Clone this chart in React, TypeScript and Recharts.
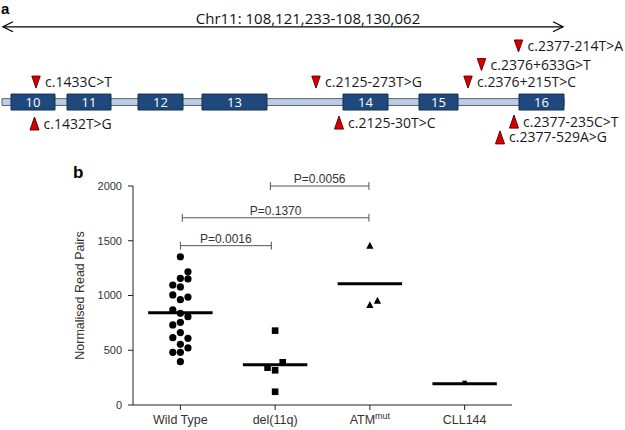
import { ComposedChart, ReferenceArea, ReferenceLine, Scatter, XAxis, YAxis } from 'recharts'

const SANS = '"Liberation Sans", Arial, sans-serif'
const CAL = '"Open Sans", sans-serif'

// panel a: exons 10-16 of ATM, x in schematic units along the region, y in lanes off the gene track
const EXON_NAMES = ['10', '11', '12', '13', '14', '15', '16']
const EXON_START = [11, 67, 138, 202, 343, 419, 519]
const EXON_END = [55, 111, 183, 267, 388, 458, 564]
const TRACK = [2, 564]
const REGION_LABEL = 'Chr11: 108,121,233-108,130,062'
const REGION_ENDS = [3, 563]
const REGION_LANE = 3.96

const VARIANTS = [
  'c.1433C>T',
  'c.2125-273T>G',
  'c.2376+215T>C',
  'c.2376+633G>T',
  'c.2377-214T>A',
  'c.1432T>G',
  'c.2125-30T>C',
  'c.2377-235C>T',
  'c.2377-529A>G',
]
const VARIANT_POS = [36, 316, 468, 481.5, 518.5, 34.5, 339, 514, 500]
const VARIANT_LANE = [1.05, 1.05, 1.05, 1.97, 2.95, -1.13, -1.08, -1.03, -1.86]

// panel b: normalised read pairs per group (x = group index + jitter)
const GROUPS = ['Wild Type', 'del(11q)', 'ATM', 'CLL144']
const GROUP_SUP = ['', '', 'mut', '']
const WT_JITTER = [0, 0.08, 0, 0.08, -0.08, 0, -0.08, 0, 0.08, -0.08, 0, 0.08, -0.08, 0, 0, 0.08, -0.08, 0, 0.08, -0.08, 0, 0]
const WT_READS = [1354, 1217, 1157, 1151, 1096, 1078, 1005, 962, 986, 868, 837, 807, 731, 755, 661, 609, 615, 554, 521, 481, 481, 396]
const DEL_JITTER = [0, 0.08, -0.08, 0, 0]
const DEL_READS = [679, 390, 341, 317, 121]
const ATM_JITTER = [0, 0, 0.08]
const ATM_READS = [1455, 913, 952]
const CLL_JITTER = [0]
const CLL_READS = [202]
const GROUP_MEANS = [843, 368, 1108, 195]

const CMP_FROM = [0, 0.02, 0.95]
const CMP_TO = [0.96, 1.99, 1.99]
const CMP_Y = [1455, 1710, 2000]
const CMP_P = ['P=0.0016', 'P=0.1370', 'P=0.0056']

const toPoints = (jitter: number[], reads: number[], g: number) =>
  reads.map((y, i) => ({ x: g + jitter[i], y }))

const exonData = EXON_NAMES.map((name, i) => ({ name, x1: EXON_START[i], x2: EXON_END[i] }))
const variantData = VARIANTS.map((label, i) => ({ label, x: VARIANT_POS[i], y: VARIANT_LANE[i] }))
const arrowData = REGION_ENDS.map((x, i) => ({ x, y: REGION_LANE, dir: i === 0 ? -1 : 1 }))

function VariantMark(props: any) {
  const { cx, cy, payload } = props
  const down = payload.y > 0
  const pts = down
    ? `${cx - 4.2},${cy - 6} ${cx + 4.2},${cy - 6} ${cx},${cy + 6}`
    : `${cx - 4.5},${cy + 6.5} ${cx + 4.5},${cy + 6.5} ${cx},${cy - 6.5}`
  return (
    <g>
      <polygon points={pts} fill="#d40000" stroke="#6b0000" strokeWidth={1} />
      <text x={cx + 9} y={cy + 5} fontFamily={CAL} fontSize={14} fill="#1a1a1a">
        {payload.label}
      </text>
    </g>
  )
}

function ArrowHead(props: any) {
  const { cx, cy, payload } = props
  const ax = cx - payload.dir * 10
  return <polyline points={`${ax},${cy - 5} ${cx},${cy} ${ax},${cy + 5}`} fill="none" stroke="#000" strokeWidth={1.3} />
}

function GroupTick(props: any) {
  const { x, y, payload } = props
  const i = payload.value
  return (
    <text x={x} y={y} dy="0.71em" textAnchor="middle" fontFamily={SANS} fontSize={12.5} fill="#333">
      {GROUPS[i]}
      {GROUP_SUP[i] && (
        <tspan dy={-5} fontSize={9}>
          {GROUP_SUP[i]}
        </tspan>
      )}
    </text>
  )
}

const circle = (p: any) => <circle cx={p.cx} cy={p.cy} r={3.6} fill="#000" />
const square = (p: any) => <rect x={p.cx - 3.3} y={p.cy - 3.3} width={6.6} height={6.6} fill="#000" />
const tri = (p: any) => (
  <polygon points={`${p.cx - 3.6},${p.cy + 3} ${p.cx + 3.6},${p.cy + 3} ${p.cx},${p.cy - 4}`} fill="#000" />
)
const tiny = (p: any) => <rect x={p.cx - 2.2} y={p.cy - 2.2} width={4.4} height={4.4} fill="#000" />

function GenePanel() {
  return (
    <ComposedChart width={625} height={160} margin={{ top: 0, right: 0, bottom: 0, left: 0 }}>
      <XAxis type="number" dataKey="x" domain={[0, 625]} allowDataOverflow hide />
      <YAxis type="number" dataKey="y" domain={[-3.05, 5.37]} allowDataOverflow hide />
      <ReferenceLine
        segment={[
          { x: REGION_ENDS[0], y: REGION_LANE },
          { x: REGION_ENDS[1], y: REGION_LANE },
        ]}
        stroke="#000"
        strokeWidth={1.3}
        ifOverflow="visible"
        label={{ value: REGION_LABEL, position: 'top', offset: 3, dx: 25, fontSize: 15, fontFamily: CAL, fill: '#111' }}
      />
      <ReferenceArea
        x1={TRACK[0]}
        x2={TRACK[1]}
        y1={-0.18}
        y2={0.18}
        fill="#b9cde5"
        fillOpacity={1}
        stroke="#5a6470"
        strokeWidth={1}
        ifOverflow="visible"
      />
      {exonData.map((e) => (
        <ReferenceArea
          key={e.name}
          x1={e.x1}
          x2={e.x2}
          y1={-0.42}
          y2={0.42}
          fill="#1f497d"
          fillOpacity={1}
          stroke="#14304f"
          strokeWidth={1}
          ifOverflow="visible"
          label={{ value: e.name, position: 'center', fill: '#fff', fontSize: 13, fontFamily: CAL }}
        />
      ))}
      <Scatter data={arrowData} shape={ArrowHead} isAnimationActive={false} />
      <Scatter data={variantData} shape={VariantMark} isAnimationActive={false} />
    </ComposedChart>
  )
}

function ReadsPanel() {
  const tickStyle = { fontFamily: SANS, fontSize: 11, fill: '#333' }
  return (
    <ComposedChart width={625} height={270} margin={{ top: 26, right: 113, bottom: 0, left: 0 }}>
      <XAxis
        type="number"
        dataKey="x"
        domain={[-0.5, 3.5]}
        ticks={[0, 1, 2, 3]}
        allowDataOverflow
        height={25}
        tickSize={5}
        tickMargin={5}
        stroke="#222"
        tick={<GroupTick />}
      />
      <YAxis
        type="number"
        dataKey="y"
        domain={[0, 2000]}
        ticks={[0, 500, 1000, 1500, 2000]}
        allowDataOverflow
        width={133}
        tickSize={5}
        tickMargin={6}
        stroke="#222"
        tick={tickStyle}
        label={{
          value: 'Normalised Read Pairs',
          angle: -90,
          position: 'center',
          dx: 13.5,
          fontFamily: SANS,
          fontSize: 12.5,
          fill: '#333',
        }}
      />
      {CMP_P.map((p, i) => (
        <ReferenceLine
          key={p}
          segment={[
            { x: CMP_FROM[i], y: CMP_Y[i] },
            { x: CMP_TO[i], y: CMP_Y[i] },
          ]}
          stroke="#555"
          strokeWidth={1}
          ifOverflow="visible"
          label={{ value: p, position: 'top', offset: 3, fontFamily: SANS, fontSize: 12, fill: '#333' }}
        />
      ))}
      {CMP_P.flatMap((p, i) =>
        [CMP_FROM[i], CMP_TO[i]].map((x, k) => (
          <ReferenceLine
            key={`${p}-${k}`}
            segment={[
              { x, y: CMP_Y[i] - 36 },
              { x, y: CMP_Y[i] + 36 },
            ]}
            stroke="#555"
            strokeWidth={1}
            ifOverflow="visible"
          />
        )),
      )}
      <Scatter data={toPoints(WT_JITTER, WT_READS, 0)} shape={circle} isAnimationActive={false} />
      <Scatter data={toPoints(DEL_JITTER, DEL_READS, 1)} shape={square} isAnimationActive={false} />
      <Scatter data={toPoints(ATM_JITTER, ATM_READS, 2)} shape={tri} isAnimationActive={false} />
      <Scatter data={toPoints(CLL_JITTER, CLL_READS, 3)} shape={tiny} isAnimationActive={false} />
      {GROUP_MEANS.map((m, g) => (
        <ReferenceLine
          key={g}
          segment={[
            { x: g - 0.34, y: m },
            { x: g + 0.34, y: m },
          ]}
          stroke="#000"
          strokeWidth={3}
          ifOverflow="visible"
        />
      ))}
    </ComposedChart>
  )
}

const panelLetter = { position: 'absolute' as const, fontFamily: SANS, fontWeight: 700 }

export default function App() {
  return (
    <div style={{ position: 'absolute', left: 0, top: 0, width: 625, height: 430, background: '#fff', overflow: 'hidden' }}>
      <div style={{ position: 'absolute', left: 0, top: 0 }}>
        <GenePanel />
      </div>
      <div style={{ position: 'absolute', left: 0, top: 160 }}>
        <ReadsPanel />
      </div>
      <div style={{ ...panelLetter, left: 1, top: 0, fontSize: 15, lineHeight: 'normal' }}>a</div>
      <div style={{ ...panelLetter, left: 73, top: 163.5, fontSize: 17, lineHeight: '17px' }}>b</div>
    </div>
  )
}
